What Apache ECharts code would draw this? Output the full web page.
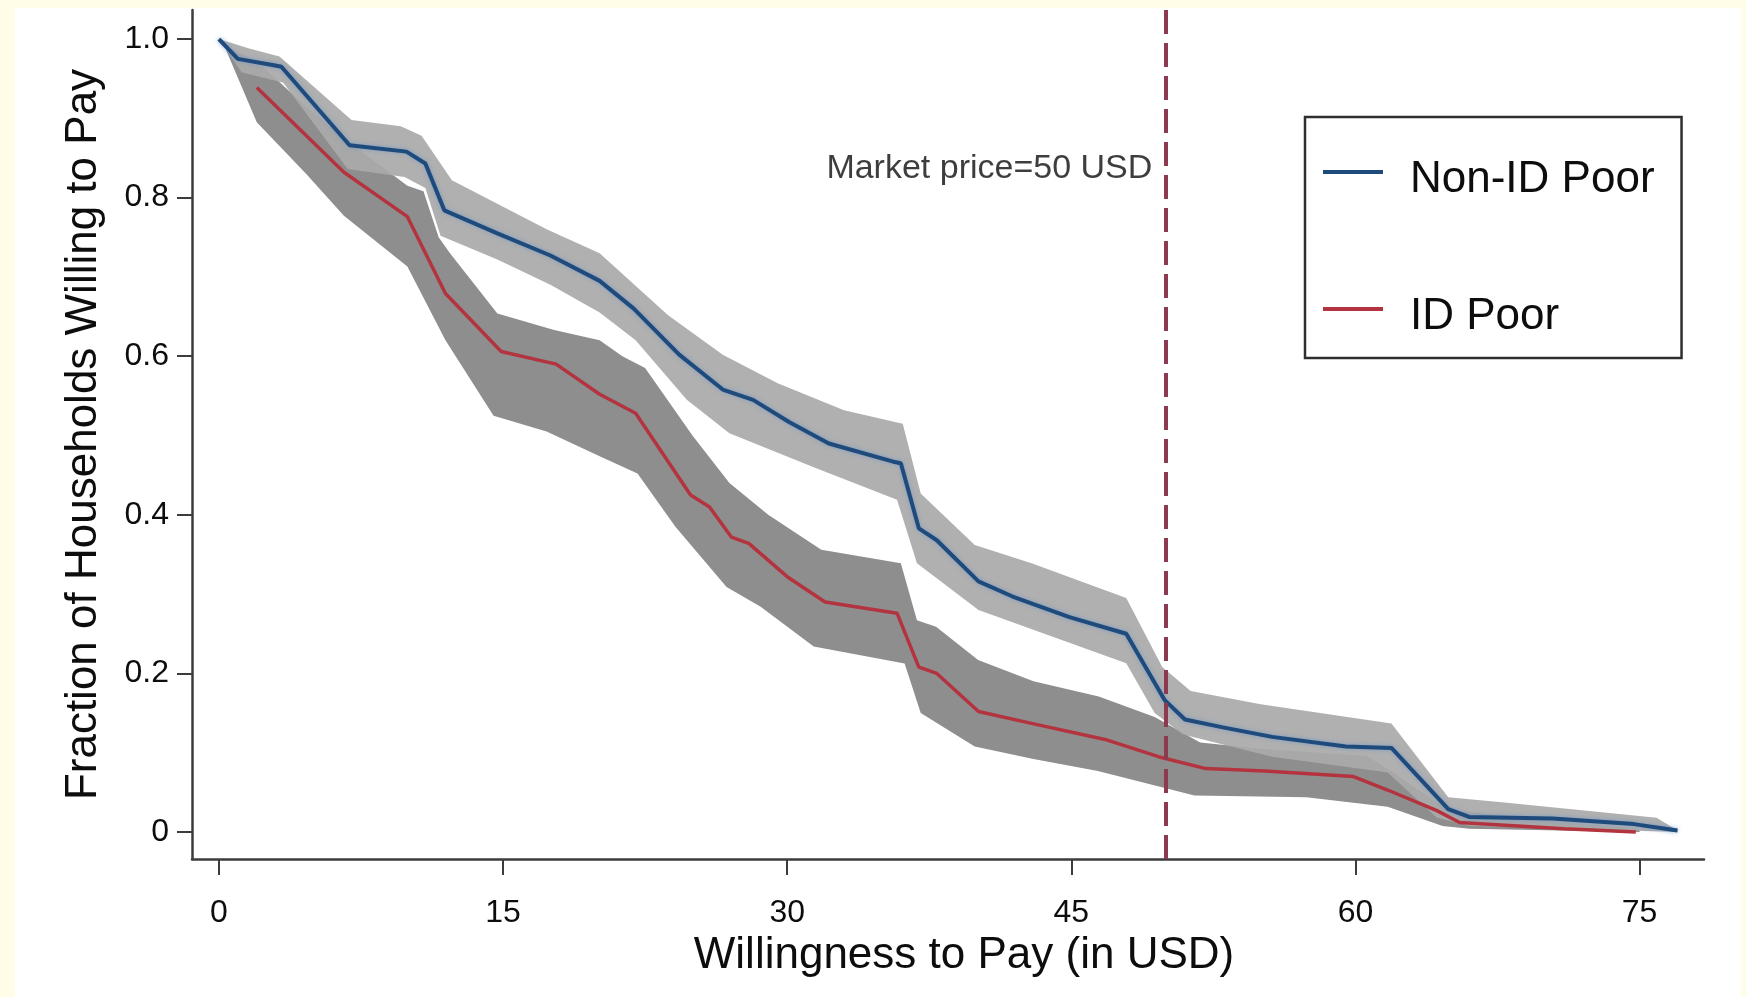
<!DOCTYPE html>
<html>
<head>
<meta charset="utf-8">
<script src="https://cdn.jsdelivr.net/npm/echarts@6/dist/echarts.min.js"></script>
<style>
  html, body { margin: 0; padding: 0; background: #fffde8; width: 1746px; height: 997px; overflow: hidden; }
  #chart { position: absolute; left: 15px; top: 8px; width: 1726px; height: 989px; background: #ffffff; }
</style>
</head>
<body>
<div id="chart"></div>
<script>
// ---- data ----
const xTicks = [0, 15, 30, 45, 60, 75];
const yTicks = [0, 0.2, 0.4, 0.6, 0.8, 1.0];
const seriesNames = ['Non-ID Poor', 'ID Poor'];
const marketPrice = 50;
const marketLabel = 'Market price=50 USD';
const xTitle = 'Willingness to Pay (in USD)';
const yTitle = 'Fraction of Households Willing to Pay';

const nonIdPoor = [
  [0,1.0],[1.0,0.975],[2.9,0.967],[3.3,0.965],[6.9,0.866],[9.9,0.858],[10.9,0.843],[11.9,0.784],
  [14.7,0.755],[17.5,0.727],[20.1,0.695],[21.9,0.66],[24.3,0.602],[26.6,0.558],[28.2,0.545],
  [30.1,0.517],[32.2,0.49],[35.6,0.467],[36.0,0.465],[36.95,0.383],[37.9,0.368],[40.1,0.316],
  [41.9,0.297],[44.9,0.271],[47.9,0.250],[49.94,0.166],[51.0,0.142],[53.0,0.132],[55.6,0.12],
  [59.5,0.108],[61.9,0.106],[64.9,0.029],[66.0,0.019],[70.4,0.017],[74.7,0.010],[77.0,0.002]
];
const nonIdHi = [
  [0,1.0],[1.6,0.988],[3.2,0.978],[7.0,0.898],[9.6,0.89],[10.7,0.878],[12.3,0.822],[17.3,0.76],
  [20.1,0.73],[23.7,0.652],[26.6,0.602],[29.5,0.566],[33,0.532],[36.1,0.515],[37.05,0.427],
  [39.9,0.362],[42.9,0.339],[47.9,0.295],[49.8,0.208],[51.3,0.178],[55.0,0.161],[61.9,0.137],
  [64.9,0.044],[68,0.037],[75.9,0.018],[77.0,0.002]
];
const nonIdLo = [
  [0,1.0],[1.2,0.958],[3.4,0.945],[6.8,0.836],[9.8,0.826],[10.9,0.812],[11.7,0.752],[14.7,0.722],
  [17.5,0.69],[20.1,0.655],[22,0.62],[24.7,0.545],[26.95,0.503],[31.4,0.46],[35.8,0.419],
  [36.85,0.339],[40.1,0.28],[47.9,0.213],[49.4,0.15],[50.9,0.123],[55.6,0.095],[61.7,0.075],
  [64.3,0.018],[66,0.008],[77,0.0]
];

const idPoor = [
  [2.0,0.939],[6.6,0.832],[9.95,0.776],[11.96,0.679],[14.9,0.606],[17.8,0.590],[20.1,0.552],
  [22.0,0.528],[24.9,0.425],[25.9,0.41],[27.05,0.372],[27.97,0.364],[30.0,0.322],[32.0,0.29],
  [35.8,0.276],[36.95,0.208],[37.9,0.2],[40.1,0.152],[42.9,0.137],[46.9,0.116],[49.6,0.095],
  [52.1,0.080],[55.2,0.077],[59.9,0.070],[61.7,0.053],[64.3,0.027],[65.5,0.012],[71.0,0.004],[74.8,0.0]
];
const idHi = [
  [0.4,0.99],[2,0.972],[4.6,0.915],[6.6,0.875],[9.95,0.815],[10.8,0.808],[11.6,0.75],[12.2,0.73],
  [14.7,0.654],[17.7,0.633],[20.1,0.62],[21.3,0.6],[22.5,0.585],[25.0,0.5],[26.95,0.44],[29,0.4],
  [31.8,0.356],[36.0,0.339],[36.85,0.267],[37.86,0.259],[40.08,0.217],[43,0.19],[46.45,0.171],
  [49.4,0.145],[51.8,0.113],[55,0.105],[60.6,0.096],[62,0.075],[64.3,0.037],[65.5,0.027],[71,0.012],[75,0.004]
];
const idLo = [
  [0.4,0.985],[2,0.895],[4.6,0.83],[6.6,0.777],[9.95,0.713],[11.96,0.62],[14.5,0.525],[17.3,0.505],
  [20.1,0.474],[22.1,0.452],[24.1,0.385],[26.8,0.309],[28.6,0.284],[31.4,0.234],[36.2,0.2125],
  [37.05,0.15],[39.9,0.108],[43,0.092],[46.4,0.077],[51.5,0.046],[57.4,0.044],[61.7,0.032],
  [64.6,0.0075],[66,0.004],[75,0.0]
];

// ---- chart ----
const FONT = 'Liberation Sans, Arial, Helvetica, sans-serif';
const TEXT = '#0d0d0d';
const AXIS = '#3c3c3c';
const LEGEND_ICON = 'path://M0,0L60,0L60,4L0,4Z M0,19.99L0.01,19.99L0.01,20L0,20Z';

function band(name, hi, lo, color) {
  return {
    type: 'custom', name: name, silent: true, z: 2,
    coordinateSystem: 'cartesian2d',
    data: [[hi[0][0], hi[0][1]]],
    renderItem: function (params, api) {
      const pts = hi.map(p => api.coord(p)).concat(lo.slice().reverse().map(p => api.coord(p)));
      return { type: 'polygon', shape: { points: pts }, style: { fill: color } };
    }
  };
}

const chart = echarts.init(document.getElementById('chart'), null, { renderer: 'canvas' });
chart.setOption({
  backgroundColor: '#ffffff',
  animation: false,
  textStyle: { fontFamily: FONT },
  grid: { left: 177, right: 37, top: 2, bottom: 138 },
  legend: {
    data: seriesNames,
    orient: 'vertical',
    left: 1290, top: 109,
    padding: [38, 27, 16, 18],
    itemGap: 87,
    itemWidth: 60, itemHeight: 20,
    icon: LEGEND_ICON,
    borderColor: '#2e2e2e', borderWidth: 2.5,
    backgroundColor: '#ffffff',
    textStyle: { fontSize: 44, color: TEXT, fontFamily: FONT, padding: [0, 0, 0, 22], lineHeight: 50 }
  },
  xAxis: {
    type: 'value', min: -1.42, max: 78.4,
    name: xTitle, nameLocation: 'middle', nameGap: 70,
    nameTextStyle: { fontSize: 44, color: TEXT, fontFamily: FONT, padding: [0, 0, 0, 32] },
    axisLine: { show: true, onZero: false, lineStyle: { color: AXIS, width: 2.5 } },
    axisTick: { show: true, length: 16, customValues: xTicks, lineStyle: { color: AXIS, width: 2 } },
    axisLabel: { customValues: xTicks, fontSize: 32, color: TEXT, margin: 38, fontFamily: FONT },
    splitLine: { show: false }
  },
  yAxis: {
    type: 'value', min: -0.034, max: 1.0366,
    name: yTitle, nameLocation: 'middle', nameGap: 86, nameRotate: 90,
    nameTextStyle: { fontSize: 44, color: TEXT, fontFamily: FONT },
    axisLine: { show: true, onZero: false, lineStyle: { color: AXIS, width: 2.5 } },
    axisTick: { show: true, length: 15, customValues: yTicks, lineStyle: { color: AXIS, width: 2 } },
    axisLabel: {
      customValues: yTicks, fontSize: 32, color: TEXT, margin: 23, fontFamily: FONT,
      formatter: v => (v === 0 ? '0' : v.toFixed(1))
    },
    splitLine: { show: false }
  },
  series: [
    {
      type: 'line', name: 'market', data: [], z: 1, silent: true,
      markLine: {
        silent: true, symbol: 'none', animation: false,
        data: [{ xAxis: marketPrice }],
        label: { show: false },
        lineStyle: { type: [24, 9], width: 4, color: '#8c3a50' }
      }
    },
    band('ID Poor CI', idHi, idLo, '#8e8e8e'),
    band('Non-ID Poor CI', nonIdHi, nonIdLo, 'rgba(170,170,170,0.93)'),
    {
      type: 'line', name: seriesNames[1], data: idPoor, z: 3,
      showSymbol: false, symbol: 'none',
      color: '#b3343f',
      lineStyle: { width: 3.5, color: '#b3343f' }
    },
    {
      type: 'line', name: seriesNames[0], data: nonIdPoor, z: 4,
      showSymbol: false, symbol: 'none',
      color: '#1f4a7c',
      lineStyle: { width: 4, color: '#1f4a7c', shadowColor: 'rgba(110,150,200,0.8)', shadowBlur: 4 }
    },
    {
      type: 'scatter', name: 'marketText', z: 5, silent: true,
      symbolSize: 0,
      data: [[marketPrice - 0.3, 0.836]],
      label: {
        show: true, position: 'left', distance: 8,
        formatter: marketLabel, fontSize: 34, color: TEXT, fontFamily: FONT
      }
    }
  ]
});
</script>
</body>
</html>
